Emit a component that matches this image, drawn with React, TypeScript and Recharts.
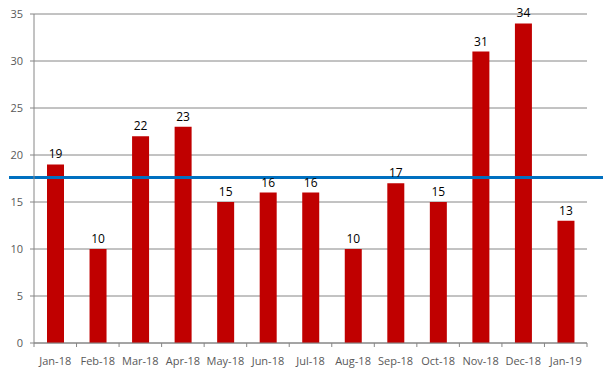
import React from 'react'
import {
  BarChart,
  Bar,
  CartesianGrid,
  XAxis,
  YAxis,
  LabelList,
  ReferenceLine
} from 'recharts';

const months = ['Jan-18', 'Feb-18', 'Mar-18', 'Apr-18', 'May-18', 'Jun-18', 'Jul-18', 'Aug-18', 'Sep-18', 'Oct-18', 'Nov-18', 'Dec-18', 'Jan-19'];
const counts = [19, 10, 22, 23, 15, 16, 16, 10, 17, 15, 31, 34, 13];
const yTicks = [0, 5, 10, 15, 20, 25, 30, 35];
const target = 17.6;

const data = months.map((m, i) => ({ month: m, count: counts[i] }));

const FONT = '"Open Sans", "DejaVu Sans", sans-serif';
const GRID = '#868686';

// Excel-style category ticks: marks sit on the band edges, label in the middle
function MonthTick(props: any) {
  const { x, y, payload, index, visibleTicksCount } = props;
  const off = payload.offset || 0;
  const axisY = y - 4;
  return (
    <g>
      <line x1={x - off} x2={x - off} y1={axisY} y2={axisY + 4} stroke={GRID} />
      {index === visibleTicksCount - 1 && (
        <line x1={x + off} x2={x + off} y1={axisY} y2={axisY + 4} stroke={GRID} />
      )}
      <text x={x} y={axisY + 22} textAnchor="middle" fill="#595959" fontSize={11} fontFamily={FONT}>
        {payload.value}
      </text>
    </g>
  );
}

function TargetLine(props: any) {
  const { x1, x2, y1 } = props;
  return <line x1={x1 - 25} x2={x2 + 16} y1={y1} y2={y1} stroke="#0070C0" strokeWidth={3} />;
}

export default function App() {
  return (
    <div style={{ position: 'absolute', left: 0, top: 0, width: 603, height: 377, background: '#fff' }}>
      <BarChart
        width={603}
        height={377}
        data={data}
        margin={{ top: 14, right: 16, bottom: 0, left: 0 }}
      >
        <CartesianGrid vertical={false} stroke={GRID} />
        <XAxis
          dataKey="month"
          height={34}
          interval={0}
          tickSize={4}
          tickMargin={0}
          tickLine={false}
          axisLine={{ stroke: GRID }}
          tick={<MonthTick />}
        />
        <YAxis
          width={34}
          domain={[0, 35]}
          ticks={yTicks}
          interval={0}
          tickSize={4}
          tickMargin={7}
          tickLine={{ stroke: GRID }}
          axisLine={{ stroke: GRID }}
          tick={{ fill: '#595959', fontSize: 11, fontFamily: FONT }}
        />
        <Bar dataKey="count" fill="#C00000" barSize={17} isAnimationActive={false}>
          <LabelList dataKey="count" position="top" offset={6} fill="#000" fontSize={12} fontFamily={FONT} />
        </Bar>
        <ReferenceLine y={target} shape={<TargetLine />} />
      </BarChart>
    </div>
  )
}
